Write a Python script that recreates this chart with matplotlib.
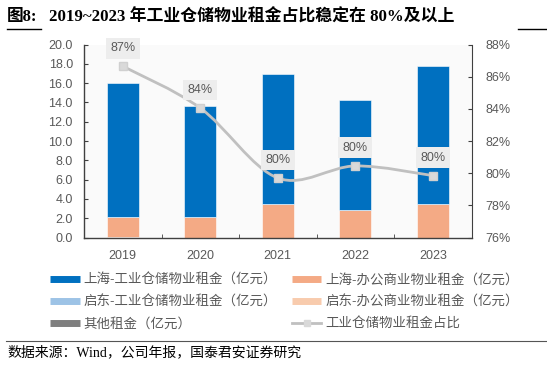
import matplotlib
matplotlib.use("Agg")
import matplotlib.pyplot as plt
from matplotlib.path import Path
from matplotlib.patches import PathPatch
from matplotlib.lines import Line2D
import numpy as np

plt.rcParams['font.family'] = ['Liberation Sans', 'Noto Sans CJK SC', 'DejaVu Sans']

years = ['2019', '2020', '2021', '2022', '2023']
sh_industrial = [13.85, 11.5, 13.45, 11.45, 14.3]
sh_office = [2.05, 2.1, 3.45, 2.85, 3.5]
qd_industrial = [0.1, 0.0, 0.0, 0.0, 0.0]
qd_office = [0.0, 0.0, 0.0, 0.0, 0.0]
others = [0.0, 0.0, 0.0, 0.0, 0.0]
share = [86.65, 84.05, 79.7, 80.45, 79.85]
share_labels = ['87%', '84%', '80%', '80%', '80%']

names = ['上海-工业仓储物业租金（亿元）', '上海-办公商业物业租金（亿元）',
         '启东-工业仓储物业租金（亿元）', '启东-办公商业物业租金（亿元）',
         '其他租金（亿元）', '工业仓储物业租金占比']
left_ticks = [0, 2, 4, 6, 8, 10, 12, 14, 16, 18, 20]
right_ticks = [76, 78, 80, 82, 84, 86, 88]

c_blue = '#0070C0'
c_orange = '#F4AA85'
c_lblue = '#9DC3E6'
c_lorange = '#F8CBAD'
c_gray = '#7F7F7F'
c_line = '#C0C0C0'
txt = '#595959'

W, H = 547, 365
fig = plt.figure(figsize=(W / 100, H / 100), dpi=100)
ax = fig.add_axes([84 / W, 1 - 237.5 / H, (471.5 - 84) / W, (237.5 - 44.5) / H])
ax.set_facecolor('#FAFAFA')

x = np.arange(len(years))
bw = 0.41
bottom = np.zeros(len(years))
for vals, col in [(qd_industrial, c_lblue), (sh_office, c_orange),
                  (qd_office, c_lorange), (others, c_gray), (sh_industrial, c_blue)]:
    v = np.array(vals)
    ax.bar(x, v, bw, bottom=bottom, color=col, edgecolor='white', linewidth=0.4, zorder=2)
    bottom += v

ax.set_xlim(-0.5, len(years) - 0.5)
ax.set_ylim(0, 20)
ax.set_yticks(left_ticks)
ax.set_yticklabels([f'{t:.1f}' for t in left_ticks])
ax.set_xticks(x)
ax.set_xticklabels(years)
ax.set_xticks(np.arange(len(years) + 1) - 0.5, minor=True)
ax.tick_params(axis='x', which='major', length=0, pad=9, labelsize=9, labelcolor=txt)
ax.tick_params(axis='x', which='minor', direction='in', length=3, color='#404040')
ax.tick_params(axis='y', direction='in', length=3, pad=8, labelsize=9, labelcolor=txt, color='#404040')
for s in ['left', 'bottom']:
    ax.spines[s].set_color('#404040')
    ax.spines[s].set_linewidth(1.0)
ax.spines['top'].set_visible(False)
ax.spines['right'].set_visible(False)

ax2 = ax.twinx()
ax2.set_ylim(76, 88)
ax2.set_yticks(right_ticks)
ax2.set_yticklabels([f'{t}%' for t in right_ticks])
ax2.tick_params(axis='y', direction='in', length=3, pad=10, labelsize=9, labelcolor=txt, color='#404040')
ax2.spines['right'].set_color('#404040')
for s in ['left', 'top', 'bottom']:
    ax2.spines[s].set_visible(False)

# smooth line (Catmull-Rom as cubic Bezier through the data points)
P = np.column_stack([x, share]).astype(float)
ext = np.vstack([P[0], P, P[-1]])
verts = [tuple(P[0])]
codes = [Path.MOVETO]
for i in range(len(P) - 1):
    p0, p1, p2, p3 = ext[i], ext[i + 1], ext[i + 2], ext[i + 3]
    c1 = p1 + (p2 - p0) / 6
    c2 = p2 - (p3 - p1) / 6
    verts += [tuple(c1), tuple(c2), tuple(p2)]
    codes += [Path.CURVE4] * 3
ax2.add_patch(PathPatch(Path(verts, codes), facecolor='none', edgecolor=c_line, lw=2.0, zorder=3))
ax2.plot(x, share, ls='none', marker='s', ms=6, mfc='#D9D9D9', mec='#D0D0D0', zorder=4)
for xi, yi, lab in zip(x, share, share_labels):
    ax2.annotate(lab, (xi, yi), xytext=(0, 13), textcoords='offset points',
                 ha='center', va='center', fontsize=9, color=txt, zorder=5,
                 bbox=dict(boxstyle='square,pad=0.35', fc='#EDEDED', ec='none'))

# legend
def bar_handle(c):
    return Line2D([], [], color=c, lw=5, solid_capstyle='butt')
handles = [bar_handle(c_blue), bar_handle(c_lblue), bar_handle(c_gray),
           bar_handle(c_orange), bar_handle(c_lorange),
           Line2D([], [], color=c_line, lw=2, marker='s', ms=5, mfc='#D9D9D9', mec='#D9D9D9')]
labels = [names[0], names[2], names[4], names[1], names[3], names[5]]
leg = fig.legend(handles, labels, ncol=2, loc='upper left',
                 bbox_to_anchor=(50 / W, 1 - 273.5 / H), frameon=False,
                 fontsize=9.7, labelcolor=txt, handlelength=2.2, handletextpad=0.28,
                 columnspacing=1.1, labelspacing=0.66, borderpad=0, borderaxespad=0)

# title
serif = ['Liberation Serif', 'Noto Sans CJK SC']
fig.text(7 / W, 1 - 17 / H, '图8:', fontsize=12, weight='bold', family=serif, va='center', ha='left')
fig.text(49 / W, 1 - 17 / H, '2019~2023 年工业仓储物业租金占比稳定在 80%及以上',
         fontsize=12.2, weight='bold', family=serif, va='center', ha='left')
fig.add_artist(Line2D([7 / W, 41 / W], [1 - 28.5 / H] * 2, color='black', lw=1.0))
fig.add_artist(Line2D([518 / W, 1], [1 - 28.5 / H] * 2, color='black', lw=1.0))

# footer
fig.add_artist(Line2D([6 / W, 1], [1 - 340.5 / H] * 2, color='#555555', lw=0.8))
fig.text(7 / W, 1 - 352 / H, '数据来源：Wind，公司年报，国泰君安证券研究', fontsize=10,
         family=serif, va='center', ha='left', color='black')

fig.savefig('out.png', dpi=100)
